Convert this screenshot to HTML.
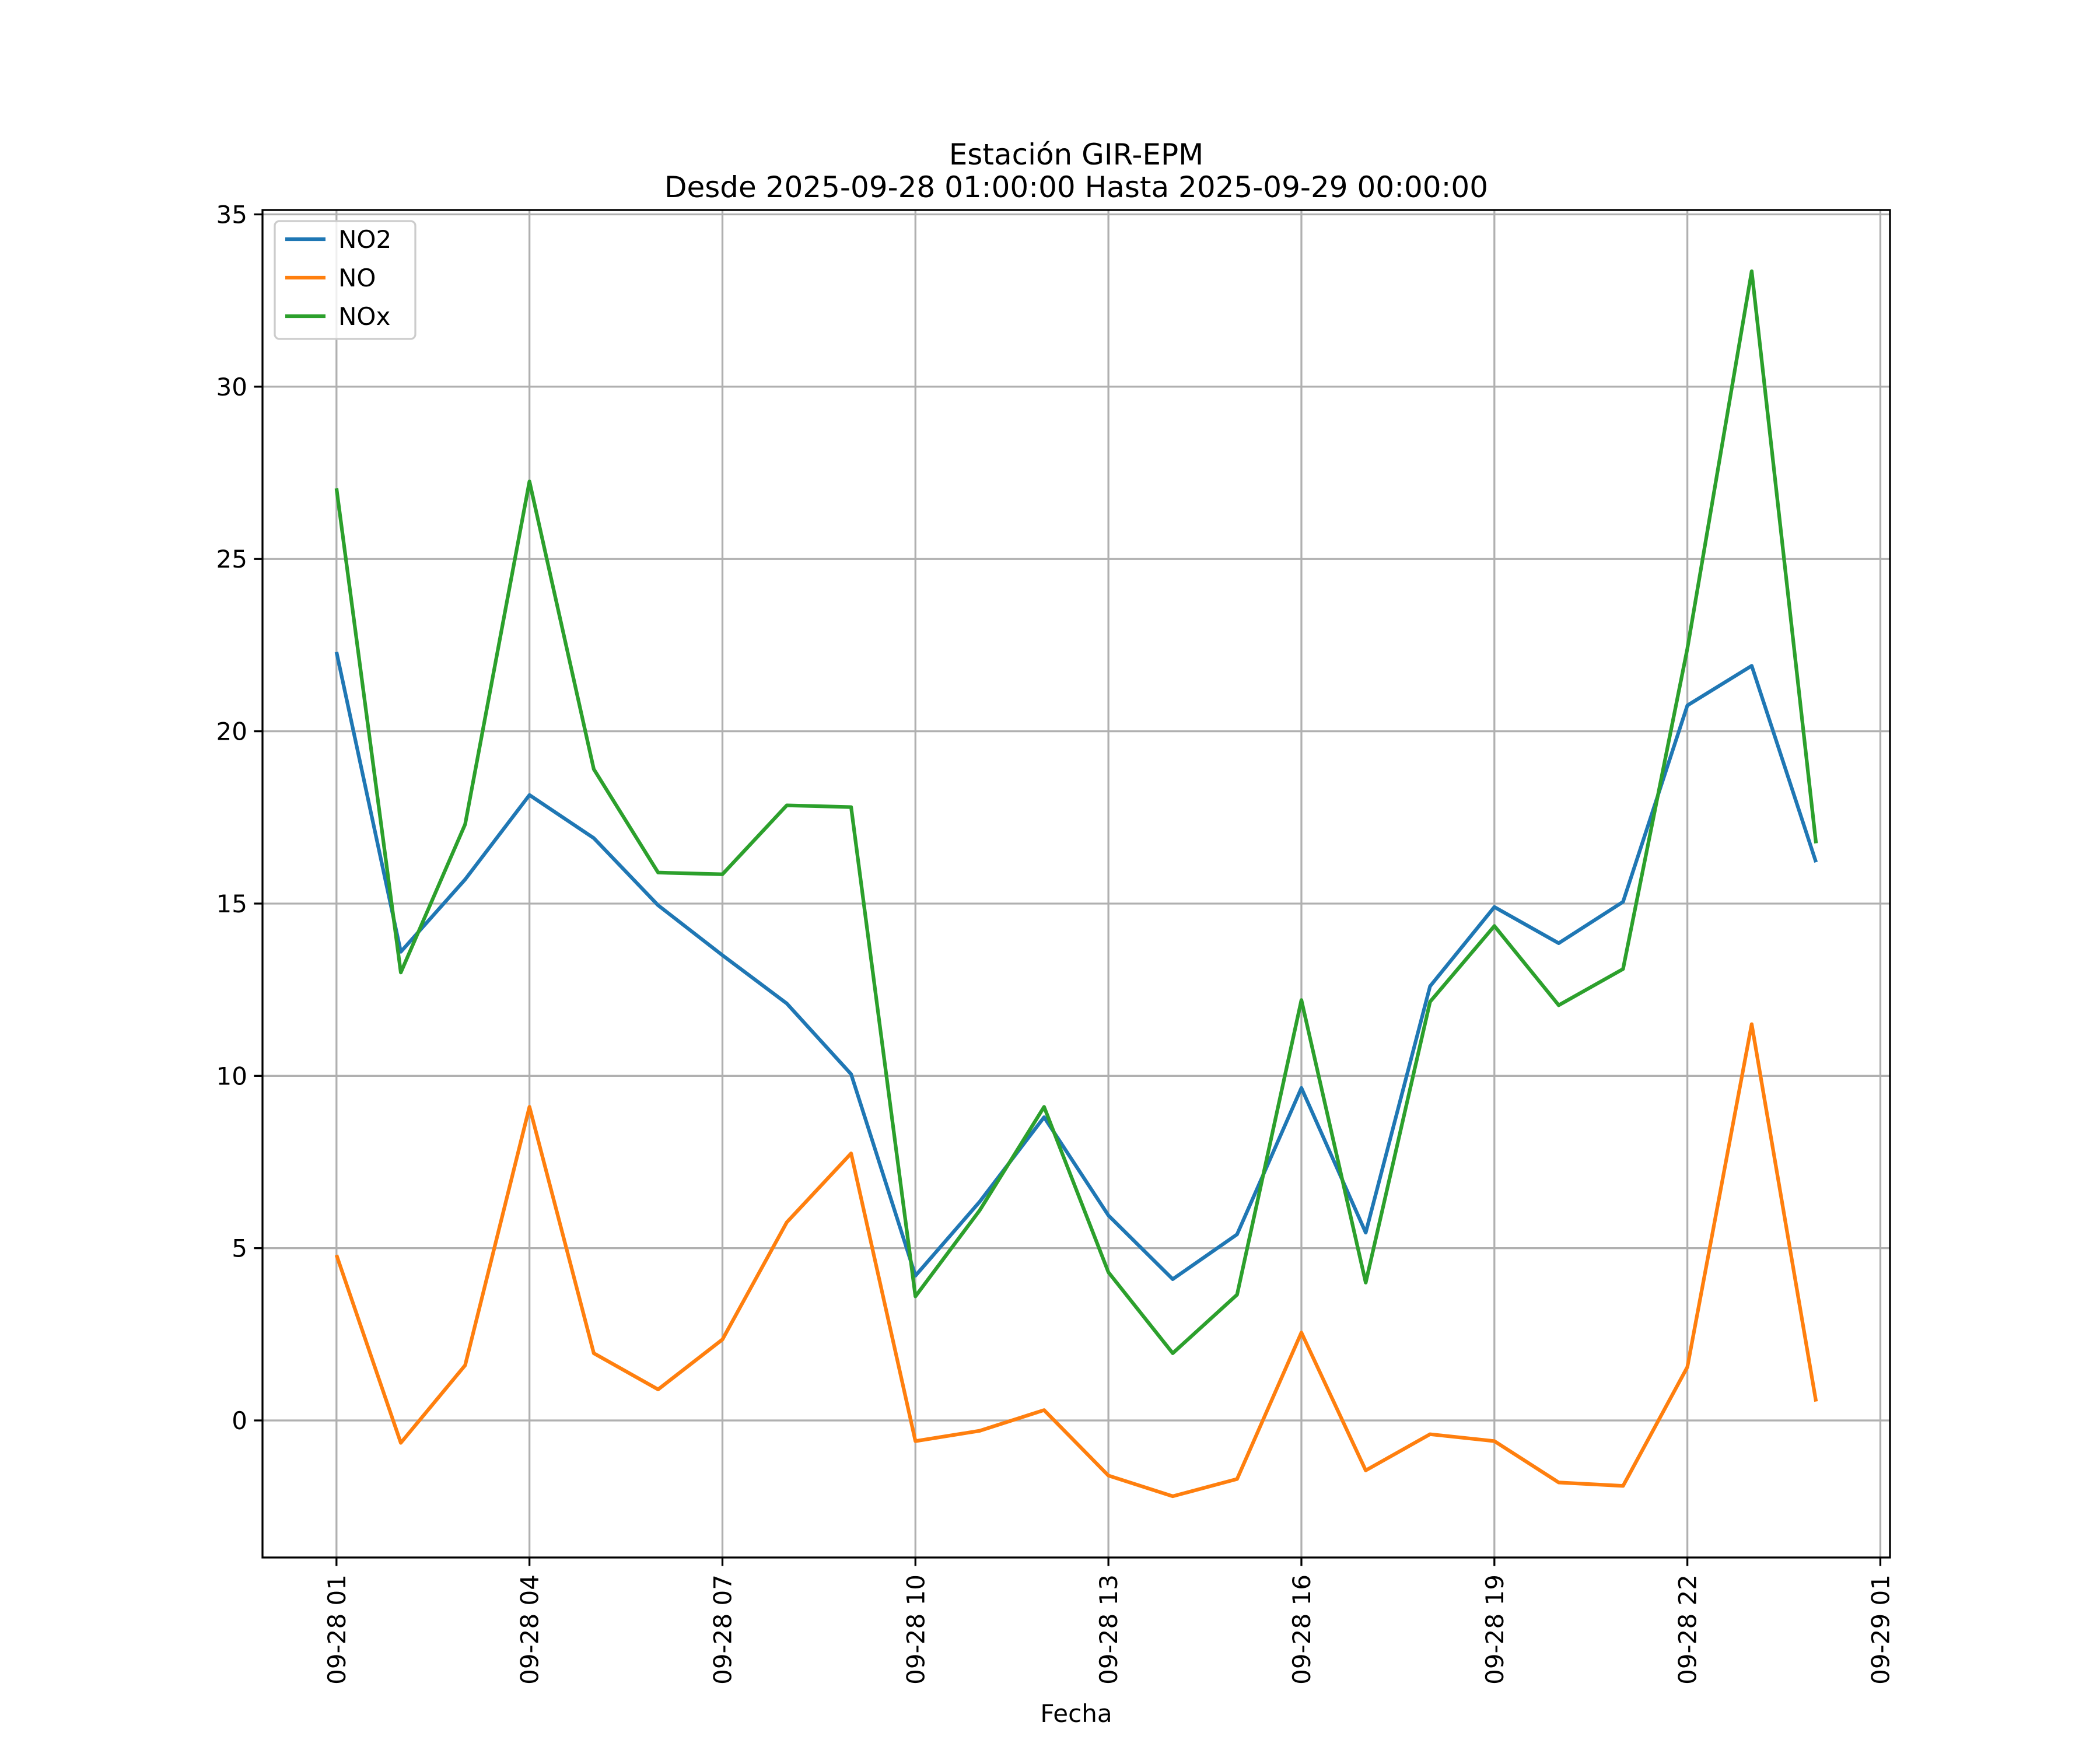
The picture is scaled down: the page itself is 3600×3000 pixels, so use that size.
<!DOCTYPE html>
<html><head><meta charset="utf-8"><style>
html,body{margin:0;padding:0;background:#fff;}
svg{display:block;font-family:"DejaVu Sans","Liberation Sans",sans-serif;}
</style></head>
<body>
<svg id="chart" width="3600" height="3000" viewBox="0 0 3600 3000" xmlns="http://www.w3.org/2000/svg">
<rect width="3600" height="3000" fill="#fff"/>
<text x="1845" y="282" font-size="50" text-anchor="middle">Estación GIR-EPM</text>
<text x="1845" y="338" font-size="50" text-anchor="middle">Desde 2025-09-28 01:00:00 Hasta 2025-09-29 00:00:00</text>
<g id="grid"></g>
<g id="series"></g>
<g id="axes"></g>
<text x="1845" y="2952" font-size="42" text-anchor="middle">Fecha</text>
<g id="legend"></g>
</svg>
<script>
const hours = [1,2,3,4,5,6,7,8,9,10,11,12,13,14,15,16,17,18,19,20,21,22,23,24];
const no2 = [22.3,13.6,15.7,18.15,16.9,14.95,13.5,12.1,10.05,4.2,6.35,8.8,5.95,4.1,5.4,9.65,5.45,12.6,14.9,13.85,15.05,20.75,21.9,16.2];
const no = [4.8,-0.65,1.6,9.1,1.95,0.9,2.35,5.75,7.75,-0.6,-0.3,0.3,-1.6,-2.2,-1.7,2.55,-1.45,-0.4,-0.6,-1.8,-1.9,1.55,11.5,0.55];
const nox = [27.05,13.0,17.3,27.25,18.9,15.9,15.85,17.85,17.8,3.6,6.1,9.1,4.3,1.95,3.65,12.2,4.0,12.15,14.35,12.05,13.1,22.4,33.35,16.75];
const yTicks = [0,5,10,15,20,25,30,35];
const xTickHours = [1,4,7,10,13,16,19,22,25];
const xTickLabels = ["09-28 01","09-28 04","09-28 07","09-28 10","09-28 13","09-28 16","09-28 19","09-28 22","09-29 01"];
const seriesNames = ["NO2","NO","NOx"];
const seriesColors = ["#1f77b4","#ff7f0e","#2ca02c"];

const L=450,R=3240,T=360,B=2670;
const allV=no2.concat(no,nox);
const vmin=Math.min(...allV),vmax=Math.max(...allV);
const ypad=(vmax-vmin)*0.05;
const y0=vmin-ypad,y1=vmax+ypad;
const xmin=hours[0],xmax=hours[hours.length-1];
const xpad=(xmax-xmin)*0.05;
const x0=xmin-xpad,x1=xmax+xpad;
const sx=h=>L+(h-x0)/(x1-x0)*(R-L);
const sy=v=>B-(v-y0)/(y1-y0)*(B-T);
const NS="http://www.w3.org/2000/svg";
function mk(tag,attrs,parent){const e=document.createElementNS(NS,tag);for(const k in attrs)e.setAttribute(k,attrs[k]);parent.appendChild(e);return e;}
const grid=document.getElementById('grid'),axes=document.getElementById('axes'),ser=document.getElementById('series'),leg=document.getElementById('legend');
yTicks.forEach(v=>{
  const g=mk('line',{x1:L,x2:R,y1:sy(v),y2:sy(v),stroke:'#b0b0b0','stroke-width':3.3},grid);
  
  
  const t=mk('line',{x1:L-14.6,x2:L,y1:sy(v),y2:sy(v),stroke:'#000','stroke-width':3.3},axes);
  
  
  const lb=mk('text',{x:L-26,y:sy(v)+15,'font-size':42,'text-anchor':'end'},axes);
  lb.textContent=v;
  
  
});
xTickHours.forEach((h,i)=>{
  const x=sx(h);
  const g=mk('line',{x1:x,x2:x,y1:T,y2:B,stroke:'#b0b0b0','stroke-width':3.3},grid);
  
  
  const t=mk('line',{x1:x,x2:x,y1:B,y2:B+14.6,stroke:'#000','stroke-width':3.3},axes);
  
  
  const lb=mk('text',{x:0,y:0,'font-size':42,'text-anchor':'end',transform:`translate(${x+15},${B+29}) rotate(-90)`},axes);
  lb.textContent=xTickLabels[i];
  
  
});
const frame=mk('rect',{x:L,y:T,width:R-L,height:B-T,fill:'none',stroke:'#000','stroke-width':3.3},axes);


[no2,no,nox].forEach((d,i)=>{
  const p=mk('polyline',{points:d.map((v,j)=>sx(hours[j])+','+sy(v)).join(' '),fill:'none',stroke:seriesColors[i],'stroke-width':6.25,'stroke-linejoin':'round'},ser);
  
  
});
const box=mk('rect',{x:471,y:379,width:241,height:202,rx:8,fill:'#fff','fill-opacity':0.8,stroke:'#ccc','stroke-width':3.3},leg);


seriesNames.forEach((n,i)=>{
  const y=410+i*66;
  const l=mk('line',{x1:489,x2:558,y1:y,y2:y,stroke:seriesColors[i],'stroke-width':6.25},leg);
  
  
  const t=mk('text',{x:580,y:y+15,'font-size':42},leg);
  t.textContent=n;
  
  
});
</script>
</body></html>
